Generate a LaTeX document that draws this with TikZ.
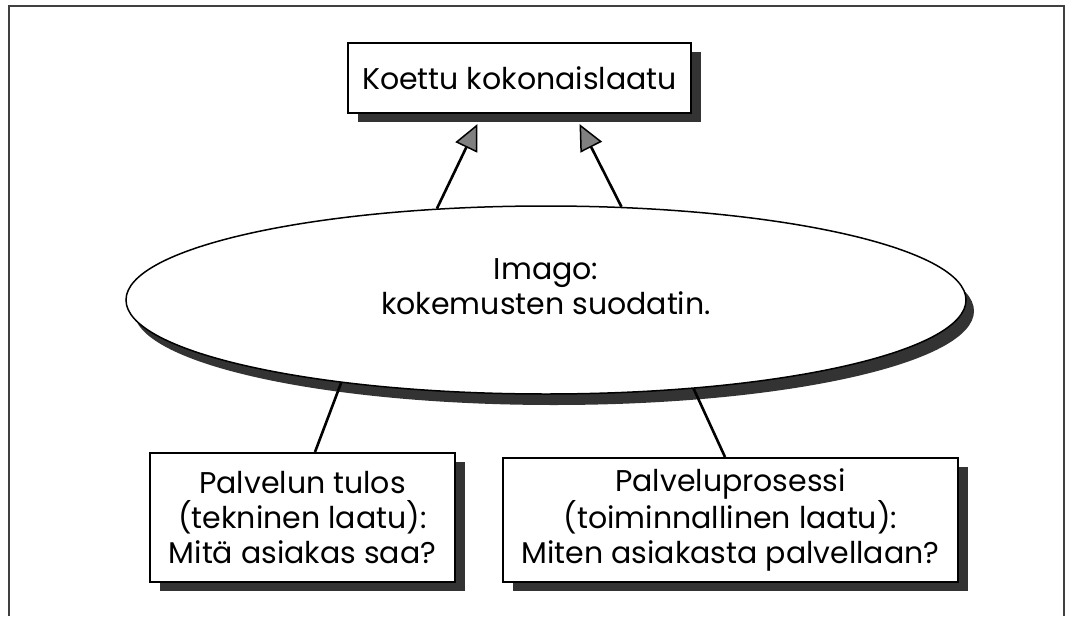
\documentclass[tikz,border=0pt]{standalone}
\usepackage{fontspec}
\setmainfont{Poppins}
\usetikzlibrary{arrows.meta,shapes.geometric,shadows}

\begin{document}
\begin{tikzpicture}[x=1pt,y=-1pt,
  txt/.style={font=\fontsize{30}{35}\selectfont, align=center},
  box/.style={txt, draw, line width=2pt, fill=white, inner sep=0pt,
    drop shadow={shadow xshift=10pt, shadow yshift=-9pt, fill=black!80, opacity=1}},
  oval/.style={ellipse, draw, line width=1.5pt, fill=white, inner sep=0pt,
    minimum width=840pt, minimum height=188pt,
    drop shadow={shadow xshift=8pt, shadow yshift=-11pt, fill=black!80, opacity=1}},
  arr/.style={line width=2.6pt, -{Triangle[length=26pt, width=24pt, line width=1.5pt, fill=black!50]}},
  link/.style={line width=2.6pt}]

  \useasboundingbox (0,0) rectangle (1068,616);

  % frame
  \draw[line width=1.8pt, black!75] (9,616) -- (9,6) -- (1064,6) -- (1064,616);

  \node[box, minimum width=343pt, minimum height=70pt] (koettu) at (519.5,78)
    {Koettu kokonaislaatu};

  \node[oval] (imago) at (546,300) {};
  \node[txt] (imagotxt) at (546,287) {Imago:\\kokemusten suodatin.};

  \node[box, minimum width=305pt, minimum height=129pt] (tulos) at (302.5,517.5)
    {Palvelun tulos\\(tekninen laatu):\\Mitä asiakas saa?};
  \node[box, minimum width=455pt, minimum height=124pt] (prosessi) at (730.5,520)
    {Palveluprosessi\\(toiminnallinen laatu):\\Miten asiakasta palvellaan?};

  \draw[arr] (imago.140.8) -- ([xshift=-42pt, yshift=-10pt]koettu.south);
  \draw[arr] (imago.51.9) -- ([xshift=60pt, yshift=-10pt]koettu.south);

  \draw[link] (imago.202.9) -- ([xshift=12.5pt]tulos.north);
  \draw[link] (imago.329.6) -- ([xshift=-5.5pt]prosessi.north);

\end{tikzpicture}
\end{document}
